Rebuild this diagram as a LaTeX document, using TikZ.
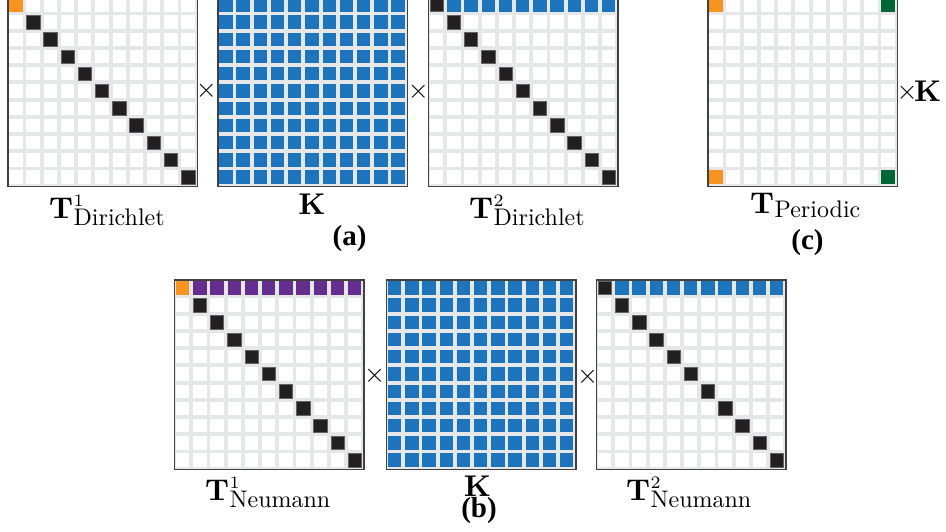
\documentclass[tikz,border=0pt]{standalone}
\usepackage{fontspec}
\newfontfamily\capfont{Liberation Serif}
\newfontfamily\lmten{lmroman10-regular.otf}
\newfontfamily\lmseven{lmroman7-regular.otf}
\newfontfamily\lmbold{lmroman10-bold.otf}
\definecolor{gridbg}{HTML}{E6E7E8}
\definecolor{framec}{HTML}{414042}
\definecolor{cblk}{HTML}{231F20}
\definecolor{corg}{HTML}{F7941E}
\definecolor{cpur}{HTML}{662D91}
\definecolor{cblu}{HTML}{1C75BC}
\definecolor{cgrn}{HTML}{006838}
\def\MP{17.218}
\def\MS{13.4}
\def\MI{1.909}
\newcommand\mgrid{%
  \fill[gridbg] (0,0) rectangle (189.4,189.4);
  \foreach \r in {0,...,10}{\foreach \c in {0,...,10}{%
    \fill[white] ({\MI+\c*\MP},{\MI+\r*\MP}) rectangle ++(\MS,\MS);}}}
\newcommand\mcell[3]{\fill[#3] ({\MI+#2*\MP},{\MI+#1*\MP}) rectangle ++(\MS,\MS);}
\newcommand\mdiag{\foreach \i in {1,...,10}{\mcell{\i}{\i}{blkcell}}}
\newcommand\mallblue{\foreach \r in {0,...,10}{\foreach \c in {0,...,10}{\mcell{\r}{\c}{cblu}}}}
\newcommand\mtoprow[1]{\foreach \c in {1,...,10}{\mcell{0}{\c}{#1}}}
\tikzset{
  matbox/.style={draw=framec, line width=1.3pt, minimum width=189.4pt, minimum height=189.4pt, inner sep=0pt, anchor=north west},
  blkcell/.style={fill=cblk, draw=cblk!70!white, line width=0.5pt},
  bigt/.style={inner sep=0pt, anchor=base west, font=\lmbold\fontsize{30}{30}\selectfont},
  supl/.style={inner sep=0pt, anchor=base west, font=\lmseven\fontsize{17.5}{17.5}\selectfont},
  subl/.style={inner sep=0pt, anchor=base west, font=\lmten\fontsize{24}{24}\selectfont},
  kl/.style={inner sep=0pt, anchor=base, font=\lmbold\fontsize{30}{30}\selectfont},
  capl/.style={inner sep=0pt, anchor=base, font=\capfont\bfseries\fontsize{29}{29}\selectfont},
  tms/.style={inner sep=0pt, anchor=center, font=\lmten\fontsize{27}{27}\selectfont}
}
\begin{document}
\begin{tikzpicture}[x=1pt,y=-1pt]
\fill[white] (0,0) rectangle (946,531);
\useasboundingbox (0,0) rectangle (946,531);
% ---- top row ----
\begin{scope}[shift={(7.3,-3.7)}]
  \mgrid \mcell{0}{0}{corg} \mdiag
  \node[matbox] (T1D) at (0,0) {};
\end{scope}
\begin{scope}[shift={(217.3,-3.7)}]
  \mgrid \mallblue
  \node[matbox] (KA) at (0,0) {};
\end{scope}
\begin{scope}[shift={(428,-3.7)}]
  \mgrid \mcell{0}{0}{blkcell} \mtoprow{cblu} \mdiag
  \node[matbox] (T2D) at (0,0) {};
\end{scope}
\begin{scope}[shift={(707.3,-3.7)}]
  \mgrid \mcell{0}{0}{corg} \mcell{10}{0}{corg} \mcell{0}{10}{cgrn} \mcell{10}{10}{cgrn}
  \node[matbox] (TP) at (0,0) {};
\end{scope}
% ---- bottom row ----
\begin{scope}[shift={(174,279.3)}]
  \mgrid \mcell{0}{0}{corg} \mtoprow{cpur} \mdiag
  \node[matbox] (T1N) at (0,0) {};
\end{scope}
\begin{scope}[shift={(386,279.3)}]
  \mgrid \mallblue
  \node[matbox] (KB) at (0,0) {};
\end{scope}
\begin{scope}[shift={(596,279.3)}]
  \mgrid \mcell{0}{0}{blkcell} \mtoprow{cblu} \mdiag
  \node[matbox] (T2N) at (0,0) {};
\end{scope}
% ---- multiplication signs ----
\node[tms] (x1) at (206.3,90.8) {×};
\node[tms] (x2) at (418.3,91.5) {×};
\node[tms] (x3) at (907,92.5) {×};
\node[kl, anchor=base west] (kp) at (914,101.7) {K};
\node[tms] (x4) at (374.5,376) {×};
\node[tms] (x5) at (587.5,377) {×};
% ---- labels ----
\node[bigt] (l1T) at (49,218.3) {T};
\node[supl] (l1p) at ([yshift=11.5pt]l1T.base east) {1};
\node[subl] (l1b) at ([yshift=-7.4pt]l1T.base east) {Dirichlet};
\node[kl] (l2) at (312,214.3) {K};
\node[bigt] (l3T) at (469,218.3) {T};
\node[supl] (l3p) at ([yshift=11.5pt]l3T.base east) {2};
\node[subl] (l3b) at ([yshift=-7.4pt]l3T.base east) {Dirichlet};
\node[bigt] (l4T) at (750,213.3) {T};
\node[subl] (l4b) at ([yshift=-3.8pt]l4T.base east) {Periodic};
\node[capl] (ca) at (349.5,245) {(a)};
\node[capl] (cc) at (807.5,249) {(c)};
\node[bigt] (l5T) at (205,500) {T};
\node[supl] (l5p) at ([yshift=12pt]l5T.base east) {1};
\node[subl] (l5b) at ([yshift=-7.4pt]l5T.base east) {Neumann};
\node[kl] (l6) at (477.5,496) {K};
\node[bigt] (l7T) at (626,500) {T};
\node[supl] (l7p) at ([yshift=12pt]l7T.base east) {2};
\node[subl] (l7b) at ([yshift=-7.4pt]l7T.base east) {Neumann};
\node[capl] (cb) at (479,517.3) {(b)};
\end{tikzpicture}
\end{document}
